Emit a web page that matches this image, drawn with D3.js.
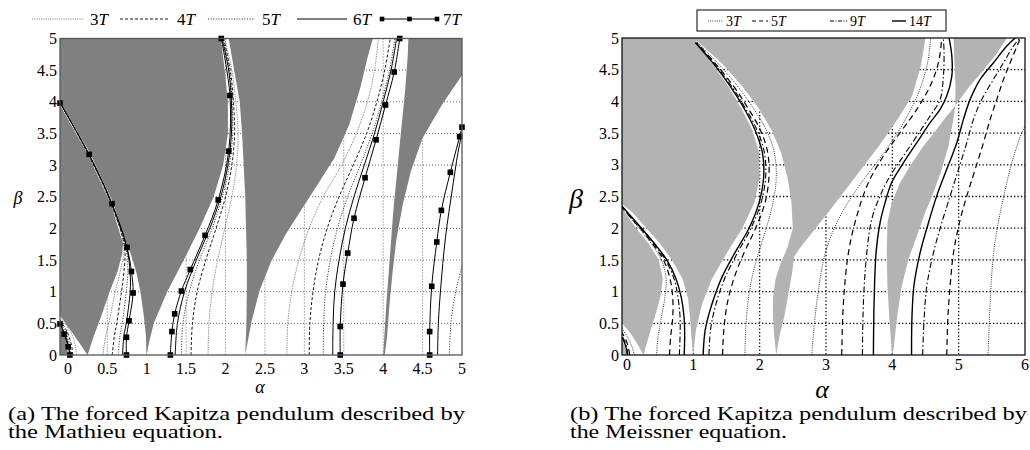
<!DOCTYPE html>
<html>
<head>
<meta charset="utf-8">
<script src="https://cdn.jsdelivr.net/npm/d3@7"></script>
<style>
  body { margin: 0; background: #fff; }
  svg { display: block; }
  text { font-family: "Liberation Serif", "DejaVu Serif", serif; fill: #000; }
</style>
</head>
<body>
<script>
// ---------- panel (a): Mathieu, values as [alpha, beta] ----------
const ticksAlphaA = [0, 0.5, 1, 1.5, 2, 2.5, 3, 3.5, 4, 4.5, 5];
const ticksBeta = [0, 0.5, 1, 1.5, 2, 2.5, 3, 3.5, 4, 4.5, 5];
const periodsA = [3, 4, 5, 6, 7];

// unstable (grey) regions
const mathieuUpper = [[-0.1,5],[1.94,5],[1.99,4.5],[2.03,4.0],[2.03,3.5],[1.97,3.0],[1.85,2.5],[1.67,2.0],[1.47,1.5],[1.26,1.0],[1.09,0.5],[1.03,0.2],[1.0,0],[0.99,0.3],[0.96,0.65],[0.92,1.0],[0.87,1.3],[0.81,1.55],[0.775,1.68],[0.74,1.77],[0.575,2.40],[0.28,3.19],[-0.1,4.0]];
const mathieuLobe = [[-0.1,3.95],[0.26,3.15],[0.55,2.37],[0.70,1.76],[0.69,1.6],[0.63,1.32],[0.53,1.0],[0.43,0.64],[0.32,0.27],[0.25,0],[0.14,0.2],[0.03,0.4],[-0.1,0.62]];
const mathieuCorner = [[-0.1,0],[0.0,0],[-0.01,0.15],[-0.03,0.27],[-0.06,0.37],[-0.1,0.46]];
const mathieuMiddle = [[2.04,5],[3.87,5],[3.81,4.74],[3.71,4.22],[3.57,3.64],[3.38,3.11],[3.14,2.64],[2.95,2.27],[2.76,1.9],[2.58,1.48],[2.43,1.01],[2.33,0.53],[2.25,0],[2.265,0.5],[2.27,1.0],[2.27,1.5],[2.26,2.0],[2.25,2.5],[2.23,3.0],[2.21,3.5],[2.18,4.0],[2.11,4.5]];
const mathieuRight = [[4.32,5],[5,5],[5,4.42],[4.75,3.96],[4.5,3.43],[4.35,2.9],[4.25,2.38],[4.17,1.85],[4.12,1.32],[4.08,0.8],[4.05,0.3],[4.02,0],[4.0,0],[4.02,0.4],[4.04,0.8],[4.07,1.3],[4.1,1.8],[4.13,2.3],[4.17,2.8],[4.2,3.2],[4.24,3.7],[4.28,4.2],[4.31,4.7]];

// nT curves
const a3T = [
  [[0.111,0],[0.085,0.2],[0.01,0.42],[-0.1,0.58]],
  [[0.444,0],[0.48,0.3],[0.52,0.5],[0.6,1.0],[0.66,1.3],[0.71,1.7],[0.545,2.39],[0.255,3.17],[-0.1,3.995]],
  [[1.778,0],[1.79,0.5],[1.83,1.0],[1.9,1.5],[1.99,2.0],[2.08,2.5],[2.14,3.0],[2.16,3.5],[2.13,4.0],[2.08,4.5],[1.99,5]],
  [[2.778,0],[2.79,0.5],[2.84,1.0],[2.93,1.5],[3.06,2.0],[3.24,2.5],[3.47,3.0],[3.66,3.5],[3.8,4.0],[3.89,4.5],[3.94,5]]
];
const a4T = [
  [[0.0625,0],[0.045,0.16],[-0.015,0.38],[-0.1,0.55]],
  [[0.5625,0],[0.59,0.3],[0.62,0.5],[0.68,1.0],[0.71,1.3],[0.72,1.7],[0.55,2.39],[0.26,3.17],[-0.1,3.99]],
  [[1.5625,0],[1.58,0.5],[1.64,1.0],[1.75,1.5],[1.88,2.0],[2.0,2.5],[2.08,3.0],[2.115,3.5],[2.1,4.0],[2.06,4.5],[1.975,5]],
  [[3.0625,0],[3.07,0.5],[3.11,1.0],[3.18,1.5],[3.29,2.0],[3.44,2.5],[3.62,3.0],[3.79,3.5],[3.92,4.0],[4.02,4.5],[4.09,5]]
];
const a5T = [
  [[0.04,0],[0.025,0.14],[-0.03,0.36],[-0.1,0.52]],
  [[0.64,0],[0.66,0.3],[0.69,0.5],[0.74,1.0],[0.76,1.3],[0.735,1.7],[0.553,2.39],[0.262,3.17],[-0.1,3.99]],
  [[1.44,0],[1.46,0.5],[1.54,1.0],[1.67,1.5],[1.83,2.0],[1.96,2.5],[2.05,3.0],[2.09,3.5],[2.085,4.0],[2.05,4.5],[1.965,5]],
  [[3.24,0],[3.245,0.5],[3.27,1.0],[3.33,1.5],[3.42,2.0],[3.55,2.5],[3.71,3.0],[3.86,3.5],[3.98,4.0],[4.08,4.5],[4.15,5]],
  [[4.84,0],[4.86,0.5],[4.92,1.0],[5.0,1.4],[5.04,1.6]]
];
const a6T = [
  [[0.028,0],[0.012,0.13],[-0.04,0.34],[-0.1,0.5]],
  [[0.694,0],[0.71,0.3],[0.74,0.5],[0.79,1.0],[0.79,1.3],[0.745,1.7],[0.557,2.39],[0.266,3.17],[-0.1,3.985]],
  [[1.361,0],[1.39,0.5],[1.48,1.0],[1.63,1.5],[1.8,2.0],[1.94,2.5],[2.03,3.0],[2.075,3.5],[2.075,4.0],[2.04,4.5],[1.955,5]],
  [[3.36,0],[3.365,0.5],[3.385,1.0],[3.44,1.5],[3.52,2.0],[3.63,2.5],[3.76,3.0],[3.89,3.5],[4.0,4.0],[4.1,4.5],[4.17,5]],
  [[4.69,0],[4.70,0.5],[4.73,1.06],[4.79,1.85],[4.88,2.64],[4.96,3.27],[5.02,3.6]]
];
// 7T: vertices are where the square markers sit
const a7T = [
  [[0.025,0],[0.004,0.13],[-0.047,0.33],[-0.1,0.49]],
  [[0.743,0],[0.743,0.28],[0.776,0.54],[0.827,0.98],[0.806,1.32],[0.75,1.70],[0.56,2.39],[0.27,3.17],[-0.1,3.98]],
  [[1.30,0],[1.32,0.37],[1.355,0.65],[1.44,1.01],[1.553,1.35],[1.74,1.89],[1.907,2.45],[2.04,3.22],[2.056,4.1],[1.946,5]],
  [[3.455,0],[3.455,0.45],[3.49,1.12],[3.55,1.61],[3.63,2.16],[3.77,2.8],[3.91,3.40],[4.03,3.95],[4.14,4.47],[4.21,5]],
  [[4.59,0],[4.59,0.37],[4.616,1.085],[4.68,1.785],[4.738,2.285],[4.852,2.886],[4.97,3.45],[5.0,3.6]]
];

// ---------- panel (b): Meissner ----------
const ticksAlphaB = [0, 1, 2, 3, 4, 5, 6];
const periodsB = [3, 5, 9, 14];

const meissnerUpper = [[-0.075,5],[4.5,5],[4.43,4.56],[4.3,4.09],[4.08,3.72],[3.8,3.30],[3.45,2.82],[3.05,2.27],[2.61,1.69],[2.52,1.55],[2.49,1.3],[2.44,1.0],[2.37,0.6],[2.3,0.3],[2.25,0],[2.22,0.3],[2.2,0.6],[2.2,0.9],[2.24,1.2],[2.32,1.45],[2.42,1.7],[2.5,2.0],[2.48,2.4],[2.42,2.8],[2.32,3.2],[2.18,3.55],[1.98,3.9],[1.73,4.25],[1.43,4.6],[1.07,4.94],[1.03,4.95],[1.28,4.6],[1.52,4.25],[1.72,3.9],[1.89,3.55],[1.99,3.2],[2.0,2.8],[1.92,2.4],[1.74,2.0],[1.5,1.6],[1.28,1.2],[1.13,0.8],[1.04,0.4],[1.0,0],[0.97,0.3],[0.95,0.6],[0.92,0.9],[0.84,1.2],[0.68,1.5],[0.48,1.78],[0.26,2.04],[0.08,2.25],[-0.075,2.38]];
const meissnerLobe = [[-0.075,2.31],[0.0,2.2],[0.14,2.0],[0.33,1.75],[0.48,1.5],[0.54,1.2],[0.5,0.9],[0.42,0.6],[0.33,0.3],[0.25,0],[0.14,0.2],[0.03,0.38],[-0.075,0.5]];
const meissnerCorner = [[-0.075,0],[0.0,0],[-0.02,0.1],[-0.05,0.18],[-0.075,0.22]];
const meissnerSliver = [[4.0,0],[4.02,0.1],[4.067,0.56],[4.142,1.088],[4.243,1.51],[4.369,1.876],[4.494,2.245],[4.62,2.56],[4.746,2.928],[4.846,3.296],[4.912,3.664],[4.95,3.93],[4.82,3.77],[4.67,3.559],[4.469,3.296],[4.268,2.98],[4.117,2.718],[3.99,2.40],[3.926,2.087],[3.916,1.613],[3.926,1.088],[3.956,0.56],[3.99,0.1]];
const meissnerTop = [[4.95,3.93],[4.952,4.243],[4.937,4.61],[4.922,5],[5.73,5],[5.55,4.72],[5.34,4.45],[5.15,4.22],[5.03,4.05]];

const b3T = [
  [[0.111,0],[0.075,0.13],[0.01,0.28],[-0.075,0.42]],
  [[0.444,0],[0.47,0.3],[0.52,0.6],[0.57,0.9],[0.59,1.2],[0.52,1.5],[0.37,1.75],[0.18,2.0],[0.02,2.2],[-0.075,2.32]],
  [[1.778,0],[1.79,0.4],[1.82,0.8],[1.88,1.2],[1.98,1.6],[2.1,2.0],[2.2,2.4],[2.25,2.8],[2.22,3.2],[2.1,3.55],[1.9,3.9],[1.66,4.25],[1.37,4.6],[1.06,4.93]],
  [[2.785,0],[2.86,0.825],[2.99,1.61],[3.17,2.1],[3.42,2.55],[3.7,2.95],[3.95,3.3],[4.2,3.72],[4.4,4.15],[4.53,4.6],[4.58,5.0]],
  [[5.444,0],[5.475,0.82],[5.525,1.6],[5.6,2.1],[5.7,2.6],[5.82,3.1],[5.95,3.5],[6.02,3.65]]
];
const b5T = [
  [[0.04,0],[0.02,0.12],[-0.02,0.25],[-0.075,0.35]],
  [[0.64,0],[0.66,0.3],[0.69,0.6],[0.69,0.9],[0.65,1.2],[0.55,1.5],[0.39,1.75],[0.2,2.0],[0.03,2.2],[-0.075,2.33]],
  [[1.44,0],[1.46,0.4],[1.51,0.8],[1.61,1.2],[1.76,1.6],[1.94,2.0],[2.08,2.4],[2.14,2.8],[2.12,3.2],[2.01,3.55],[1.82,3.9],[1.6,4.25],[1.33,4.6],[1.05,4.93]],
  [[3.237,0],[3.263,0.825],[3.338,1.61],[3.464,2.19],[3.64,2.72],[3.866,3.138],[4.117,3.507],[4.369,3.874],[4.57,4.242],[4.695,4.61],[4.746,5.0]],
  [[4.821,0],[4.836,0.562],[4.871,1.088],[4.922,1.613],[5.012,2.087],[5.123,2.51],[5.249,2.928],[5.374,3.349],[5.475,3.717],[5.575,4.032],[5.676,4.348],[5.776,4.61],[5.902,4.926],[5.93,5.0]]
];
const b9T = [
  [[0.012,0],[-0.005,0.12],[-0.035,0.22],[-0.075,0.3]],
  [[0.79,0],[0.8,0.3],[0.8,0.6],[0.77,0.9],[0.71,1.2],[0.58,1.5],[0.41,1.75],[0.21,2.0],[0.04,2.2],[-0.075,2.34]],
  [[1.235,0],[1.26,0.4],[1.34,0.8],[1.47,1.2],[1.66,1.6],[1.87,2.0],[2.02,2.4],[2.09,2.8],[2.07,3.2],[1.96,3.55],[1.78,3.9],[1.57,4.25],[1.31,4.6],[1.04,4.93]],
  [[3.549,0],[3.564,0.825],[3.615,1.61],[3.69,2.14],[3.816,2.51],[3.966,2.823],[4.168,3.14],[4.369,3.454],[4.57,3.77],[4.72,4.03],[4.77,4.4],[4.78,4.77],[4.77,5.0]],
  [[4.457,0],[4.479,0.562],[4.52,1.088],[4.62,1.613],[4.746,2.087],[4.872,2.51],[4.997,2.928],[5.123,3.349],[5.223,3.717],[5.349,4.032],[5.525,4.348],[5.676,4.61],[5.826,4.873],[5.927,5.0]]
];
const b14T = [
  [[0.005,0],[-0.01,0.1],[-0.04,0.2],[-0.075,0.28]],
  [[0.862,0],[0.87,0.3],[0.86,0.6],[0.82,0.9],[0.74,1.2],[0.6,1.5],[0.42,1.75],[0.22,2.0],[0.05,2.2],[-0.075,2.35]],
  [[1.148,0],[1.18,0.4],[1.28,0.8],[1.42,1.2],[1.62,1.6],[1.84,2.0],[1.99,2.4],[2.06,2.8],[2.04,3.2],[1.93,3.55],[1.76,3.9],[1.55,4.25],[1.3,4.6],[1.03,4.93]],
  [[3.715,0],[3.725,0.825],[3.755,1.61],[3.816,2.09],[3.89,2.40],[3.99,2.72],[4.168,3.033],[4.369,3.35],[4.57,3.664],[4.72,3.874],[4.82,4.085],[4.897,4.40],[4.897,4.716],[4.856,5.0]],
  [[4.29,0],[4.295,0.562],[4.325,1.088],[4.419,1.613],[4.545,2.087],[4.67,2.51],[4.82,2.928],[4.972,3.349],[5.072,3.717],[5.173,4.032],[5.324,4.348],[5.525,4.61],[5.726,4.873],[5.852,5.0]]
];

// ---------- drawing ----------
const svg = d3.select("body").append("svg").attr("width", 1030).attr("height", 450)
  .attr("font-family", "'Liberation Serif', 'DejaVu Serif', serif");

const styleA = {
  3: {dash: "0.7,1.1", w: 0.8, c: "#333"},
  4: {dash: "3,2", w: 0.9, c: "#000"},
  5: {dash: "1,1.6", w: 0.9, c: "#111"},
  6: {dash: null, w: 1.0, c: "#000"},
  7: {dash: null, w: 1.0, c: "#000", marker: true}
};
const styleB = {
  3: {dash: "1,1.2", w: 0.9, c: "#222"},
  5: {dash: "6,4", w: 1.2, c: "#000"},
  9: {dash: "6,2.5,1.5,2.5", w: 1.1, c: "#000"},
  14: {dash: null, w: 1.4, c: "#000"}
};

function drawPanel(o) {
  const [xl, xr] = o.x.range(), [yb, yt] = o.y.range();
  const g = svg.append("g");
  g.append("clipPath").attr("id", o.id).append("rect")
    .attr("x", xl).attr("y", yt).attr("width", xr - xl).attr("height", yb - yt);
  const p = g.append("g").attr("clip-path", `url(#${o.id})`);

  // dotted grid, hidden later where the grey regions sit
  p.selectAll(".gx").data(o.gridX).join("line")
    .attr("x1", d => o.x(d)).attr("x2", d => o.x(d)).attr("y1", yt).attr("y2", yb)
    .attr("stroke", o.gridColor).attr("stroke-width", o.gridW).attr("stroke-dasharray", o.gridDash);
  p.selectAll(".gy").data(o.gridY).join("line")
    .attr("y1", d => o.y(d)).attr("y2", d => o.y(d)).attr("x1", xl).attr("x2", xr)
    .attr("stroke", o.gridColor).attr("stroke-width", o.gridW).attr("stroke-dasharray", o.gridDash);

  const poly = d3.line().x(d => o.x(d[0])).y(d => o.y(d[1])).curve(d3.curveLinearClosed);
  p.selectAll(".reg").data(o.regions).join("path")
    .attr("d", poly).attr("fill", o.fill);

  const line = d3.line().x(d => o.x(d[0])).y(d => o.y(d[1])).curve(d3.curveCatmullRom.alpha(0.5));
  o.series.forEach(s => {
    const st = o.styles[s.n];
    p.append("g").selectAll("path").data(s.curves).join("path")
      .attr("d", line).attr("fill", "none")
      .attr("stroke", st.c).attr("stroke-width", st.w)
      .attr("stroke-dasharray", st.dash);
    if (st.marker) {
      g.append("g").selectAll("rect").data(s.curves.flat()).join("rect")
        .attr("x", d => o.x(d[0]) - 2.8).attr("y", d => o.y(d[1]) - 2.8)
        .attr("width", 5.6).attr("height", 5.6).attr("fill", "#000");
    }
  });

  g.append("rect").attr("x", xl).attr("y", yt).attr("width", xr - xl).attr("height", yb - yt)
    .attr("fill", "none").attr("stroke", o.frame).attr("stroke-width", o.frameW);

  g.selectAll(".tx").data(o.ticksX).join("text")
    .attr("x", d => o.x(d)).attr("y", o.tickXBase)
    .attr("text-anchor", "middle").attr("font-size", o.tickSize).text(d => d);
  g.selectAll(".ty").data(o.ticksY).join("text")
    .attr("x", xl - 3).attr("y", d => o.y(d)).attr("dy", "0.35em")
    .attr("text-anchor", "end").attr("font-size", o.tickSize).text(d => d);
}

const xA = d3.scaleLinear().domain([-0.1, 5]).range([60, 462]);
const yA = d3.scaleLinear().domain([0, 5]).range([355, 38.5]);
drawPanel({
  id: "clipA", x: xA, y: yA,
  gridX: ticksAlphaA.slice(0, -1), gridY: ticksBeta.slice(1, -1),
  gridColor: "#444", gridW: 0.8, gridDash: "1,2",
  regions: [mathieuUpper, mathieuLobe, mathieuCorner, mathieuMiddle, mathieuRight],
  fill: "#808080",
  styles: styleA,
  series: [{n: 3, curves: a3T}, {n: 4, curves: a4T}, {n: 5, curves: a5T}, {n: 6, curves: a6T}, {n: 7, curves: a7T}],
  frame: "#555", frameW: 1.3,
  ticksX: ticksAlphaA, ticksY: ticksBeta, tickXBase: 374, tickSize: 16
});

const xB = d3.scaleLinear().domain([-0.075, 6]).range([622, 1025]);
const yB = d3.scaleLinear().domain([0, 5]).range([355, 38]);
drawPanel({
  id: "clipB", x: xB, y: yB,
  gridX: ticksAlphaB.slice(1, -1), gridY: ticksBeta.slice(1, -1),
  gridColor: "#000", gridW: 1.3, gridDash: "1.3,2.2",
  regions: [meissnerUpper, meissnerLobe, meissnerCorner, meissnerSliver, meissnerTop],
  fill: "#b3b3b3",
  styles: styleB,
  series: [{n: 3, curves: b3T}, {n: 5, curves: b5T}, {n: 9, curves: b9T}, {n: 14, curves: b14T}],
  frame: "#000", frameW: 1.2,
  ticksX: ticksAlphaB, ticksY: ticksBeta, tickXBase: 370, tickSize: 16
});

// axis titles
svg.append("text").attr("x", 18).attr("y", 198).attr("dy", "0.35em").attr("text-anchor", "middle")
  .attr("font-size", 18).attr("font-style", "italic").text("β");
svg.append("text").attr("x", 260).attr("y", 388).attr("dy", "0.3em").attr("text-anchor", "middle")
  .attr("font-size", 18).attr("font-style", "italic").text("α");
svg.append("text").attr("x", 576).attr("y", 198).attr("dy", "0.35em").attr("text-anchor", "middle")
  .attr("font-size", 28).attr("font-style", "italic").text("β");
svg.append("text").attr("x", 822).attr("y", 390).attr("dy", "0.3em").attr("text-anchor", "middle")
  .attr("font-size", 26).attr("font-style", "italic").text("α");

// legends
function legendLabel(sel, x, y, n, size) {
  const t = sel.append("text").attr("x", x).attr("y", y).attr("dy", "0.35em").attr("font-size", size);
  t.append("tspan").text(n);
  t.append("tspan").attr("font-style", "italic").text("T");
}
const legA = svg.append("g");
const legAPos = [[32, 83, 90], [120, 168, 177], [208, 255, 262], [297, 347, 353], [382, 437, 443]];
periodsA.forEach((n, i) => {
  const [l0, l1, tx] = legAPos[i], st = styleA[n];
  legA.append("line").attr("x1", l0).attr("x2", l1).attr("y1", 19).attr("y2", 19)
    .attr("stroke", st.c).attr("stroke-width", st.w).attr("stroke-dasharray", st.dash);
  if (st.marker) {
    [l0, (l0 + l1) / 2, l1].forEach(mx => legA.append("rect")
      .attr("x", mx - 2.3).attr("y", 19 - 2.3).attr("width", 4.6).attr("height", 4.6).attr("fill", "#000"));
  }
  legendLabel(legA, tx, 19, n, 17);
});

const legB = svg.append("g");
legB.append("rect").attr("x", 697).attr("y", 10).attr("width", 249).attr("height", 21)
  .attr("fill", "#fff").attr("stroke", "#000").attr("stroke-width", 1);
const legBPos = [[708, 723, 726], [752, 768, 771], [830, 847, 850], [892, 906, 909]];
periodsB.forEach((n, i) => {
  const [l0, l1, tx] = legBPos[i], st = styleB[n];
  legB.append("line").attr("x1", l0).attr("x2", l1).attr("y1", 21).attr("y2", 21)
    .attr("stroke", st.c).attr("stroke-width", st.w)
    .attr("stroke-dasharray", n === 5 ? "4,3" : n === 9 ? "4,1.5,1,1.5" : st.dash);
  legendLabel(legB, tx, 21, n, 14);
});

// captions
const captions = [
  {x: 8, lines: ["(a) The forced Kapitza pendulum described by", "the Mathieu equation."], widths: [457, 215]},
  {x: 570, lines: ["(b) The forced Kapitza pendulum described by", "the Meissner equation."], widths: [457, 217]}
];
captions.forEach(c => {
  c.lines.forEach((s, i) => {
    svg.append("text").attr("x", c.x).attr("y", 420 + i * 18).attr("font-size", 18)
      .attr("textLength", c.widths[i]).attr("lengthAdjust", "spacingAndGlyphs").text(s);
  });
});
</script>
</body>
</html>
